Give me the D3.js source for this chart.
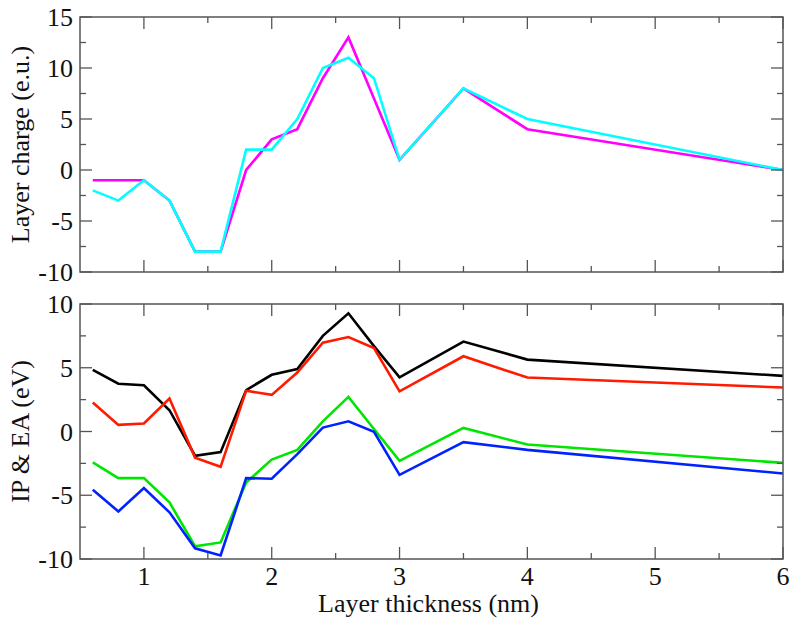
<!DOCTYPE html>
<html>
<head>
<meta charset="utf-8">
<script src="https://cdn.jsdelivr.net/npm/d3@7"></script>
<style>
  html, body { margin: 0; padding: 0; background: #fff; }
  svg { display: block; }
</style>
</head>
<body>
<svg id="chart" width="795" height="624"></svg>
<script>
// ---- data ----
const thickness = [0.6, 0.8, 1.0, 1.2, 1.4, 1.6, 1.8, 2.0, 2.2, 2.4, 2.6, 2.8, 3.0, 3.5, 4.0, 6.0];
const chargeMagenta = [-1, -1, -1, -3, -8, -8, 0, 3, 4, 9, 13, 7, 1, 8, 4, 0];
const chargeCyan    = [-2, -3, -1, -3, -8, -8, 2, 2, 5, 10, 11, 9, 1, 8, 5, 0];
const energyBlack = [4.83, 3.75, 3.63, 1.67, -1.9, -1.62, 3.25, 4.45, 4.9, 7.5, 9.27, 6.7, 4.25, 7.05, 5.64, 4.36];
const energyRed   = [2.27, 0.52, 0.63, 2.59, -2.05, -2.77, 3.2, 2.87, 4.62, 6.97, 7.41, 6.55, 3.15, 5.9, 4.23, 3.45];
const energyGreen = [-2.43, -3.66, -3.66, -5.56, -9.0, -8.7, -4.0, -2.2, -1.44, 0.8, 2.72, 0.2, -2.3, 0.28, -1.02, -2.46];
const energyBlue  = [-4.57, -6.27, -4.44, -6.34, -9.16, -9.72, -3.66, -3.7, -1.78, 0.31, 0.8, -0.03, -3.4, -0.84, -1.44, -3.29];
const xTicks = [1, 2, 3, 4, 5, 6];
const topYTicks = [-10, -5, 0, 5, 10, 15];
const botYTicks = [-10, -5, 0, 5, 10];
const xTitle = "Layer thickness (nm)";
const topYTitle = "Layer charge (e.u.)";
const botYTitle = "IP & EA (eV)";

// ---- layout ----
const FONT = "'Liberation Serif', 'Times New Roman', Times, serif";
const svg = d3.select("#chart");
const left = 80, right = 783;
const x = d3.scaleLinear().domain([0.5, 6]).range([left, right]);
const panels = [
  { top: 17, bottom: 272, domain: [-10, 15], ticks: topYTicks, title: topYTitle,
    series: [{ v: chargeMagenta, c: "#ff00ff" }, { v: chargeCyan, c: "#00ffff" }], xLabels: false },
  { top: 304, bottom: 559, domain: [-10, 10], ticks: botYTicks, title: botYTitle,
    series: [{ v: energyBlack, c: "#000000" }, { v: energyRed, c: "#ff1a00" },
             { v: energyGreen, c: "#00e600" }, { v: energyBlue, c: "#0022ff" }], xLabels: true }
];

const fontSize = 26;
const major = 12, minor = 6;

panels.forEach(p => {
  const y = d3.scaleLinear().domain(p.domain).range([p.bottom, p.top]);
  const g = svg.append("g");

  const minorX = d3.range(1.5, 6, 1);
  const minorY = d3.range(p.domain[0] + 2.5, p.domain[1], 5);

  // series lines
  const line = d3.line().x((d, i) => x(thickness[i])).y(d => y(d));
  p.series.forEach(s => {
    g.append("path").datum(s.v)
      .attr("d", line)
      .attr("fill", "none")
      .attr("stroke", s.c)
      .attr("stroke-width", 2.6)
      .attr("stroke-linejoin", "miter");
  });

  // ticks (inside, all four sides)
  const tk = g.append("g").attr("stroke", "#555").attr("stroke-width", 1.3);
  xTicks.forEach(t => {
    tk.append("line").attr("x1", x(t)).attr("x2", x(t)).attr("y1", p.bottom).attr("y2", p.bottom - major);
    tk.append("line").attr("x1", x(t)).attr("x2", x(t)).attr("y1", p.top).attr("y2", p.top + major);
  });
  minorX.forEach(t => {
    tk.append("line").attr("x1", x(t)).attr("x2", x(t)).attr("y1", p.bottom).attr("y2", p.bottom - minor);
    tk.append("line").attr("x1", x(t)).attr("x2", x(t)).attr("y1", p.top).attr("y2", p.top + minor);
  });
  p.ticks.forEach(t => {
    tk.append("line").attr("x1", left).attr("x2", left + major).attr("y1", y(t)).attr("y2", y(t));
    tk.append("line").attr("x1", right).attr("x2", right - major).attr("y1", y(t)).attr("y2", y(t));
  });
  minorY.forEach(t => {
    tk.append("line").attr("x1", left).attr("x2", left + minor).attr("y1", y(t)).attr("y2", y(t));
    tk.append("line").attr("x1", right).attr("x2", right - minor).attr("y1", y(t)).attr("y2", y(t));
  });

  // frame
  g.append("rect").attr("x", left).attr("y", p.top)
    .attr("width", right - left).attr("height", p.bottom - p.top)
    .attr("fill", "none").attr("stroke", "#555").attr("stroke-width", 1.5);

  // y tick labels
  g.selectAll(".yl").data(p.ticks).enter().append("text")
    .attr("x", left - 7).attr("y", d => y(d) + 9)
    .attr("text-anchor", "end").attr("font-size", fontSize)
    .attr("font-family", FONT).attr("fill", "#111")
    .text(d => d);

  // x tick labels
  if (p.xLabels) {
    g.selectAll(".xl").data(xTicks).enter().append("text")
      .attr("x", d => x(d)).attr("y", p.bottom + 26)
      .attr("text-anchor", "middle").attr("font-size", fontSize)
      .attr("font-family", FONT).attr("fill", "#111")
      .text(d => d);
  }

  // y title
  g.append("text")
    .attr("transform", `translate(${29},${(p.top + p.bottom) / 2}) rotate(-90)`)
    .attr("text-anchor", "middle").attr("font-size", fontSize)
    .attr("font-family", FONT).attr("fill", "#111")
    .text(p.title);
});

// x title
svg.append("text")
  .attr("x", (left + right) / 2 - 3).attr("y", 612)
  .attr("text-anchor", "middle").attr("font-size", fontSize)
  .attr("font-family", FONT).attr("fill", "#111")
  .text(xTitle);
</script>
</body>
</html>
